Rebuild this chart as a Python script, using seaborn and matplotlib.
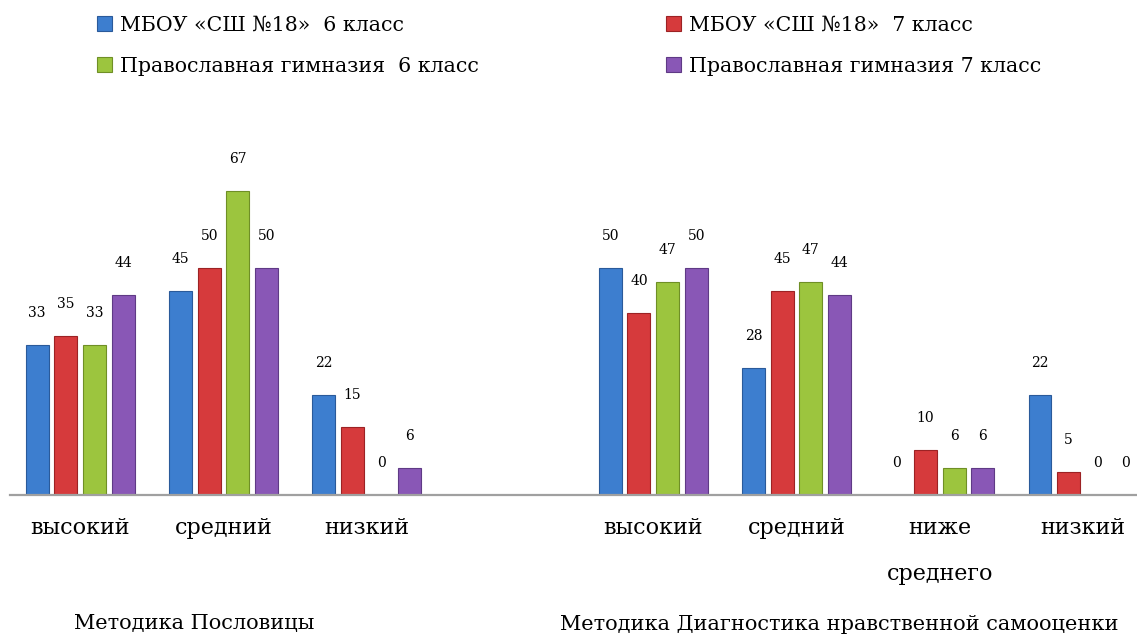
import numpy as np
import pandas as pd
import matplotlib
matplotlib.use("Agg")
import matplotlib.pyplot as plt
from matplotlib.patches import Patch
import seaborn as sns

# ---- data ----
series = ["МБОУ «СШ №18»  6 класс", "МБОУ «СШ №18»  7 класс",
          "Православная гимназия  6 класс", "Православная гимназия 7 класс"]
categories_1 = ["высокий", "средний", "низкий"]
categories_2 = ["высокий", "средний", "ниже\nсреднего", "низкий"]
group_titles = ["Методика Пословицы", "Методика Диагностика нравственной самооценки"]

mbou_6 = [33, 45, 22, 50, 28, 0, 22]
mbou_7 = [35, 50, 15, 40, 45, 10, 5]
gym_6 = [33, 67, 0, 47, 47, 6, 0]
gym_7 = [44, 50, 6, 50, 44, 6, 0]

colors = ["#3d7ecf", "#d63a3c", "#9cc53e", "#8957b6"]
edges = ["#2a5a9a", "#9c2224", "#6f8f26", "#5f3a85"]

# slot positions: group 1 at 0..2, empty slot 3, group 2 at 4..7
slots = [0, 1, 2, 4, 5, 6, 7]
labels = categories_1 + categories_2

rows = []
for name, vals in zip(series, [mbou_6, mbou_7, gym_6, gym_7]):
    for p, v in zip(slots, vals):
        rows.append({"pos": p, "value": v, "series": name})
df = pd.DataFrame(rows)

sns.set_theme(style="white")
plt.rcParams["font.family"] = ["DejaVu Serif", "DejaVu Sans"]
plt.rcParams["text.color"] = "black"
plt.rcParams["xtick.color"] = "black"

fig = plt.figure(figsize=(11.37, 6.36), dpi=100)
W, H = 1137, 636
ax = fig.add_axes([10 / W, 1 - 495 / H, 1 - 10 / W, (495 - 150) / H])

sns.barplot(data=df, x="pos", y="value", hue="series", hue_order=series,
            native_scale=True, palette=colors, saturation=1, gap=0.2,
            legend=False, ax=ax, linewidth=0.8, edgecolor="#333333")

for cont, ec in zip(ax.containers, edges):
    for b in cont:
        b.set_edgecolor(ec)
    ax.bar_label(cont, fmt="%g", padding=18, fontsize=10, color="black")

ax.set_xlim(-0.49, 7.377)
ax.set_ylim(0, 76)
ax.set_xticks(slots)
ax.set_xticklabels(labels, fontsize=16, color="black")
for t in ax.get_xticklabels():
    t.set_linespacing(2.4)
    t.set_multialignment("center")
ax.tick_params(axis="x", length=0, pad=16)
ax.set_yticks([])
ax.set_xlabel("")
ax.set_ylabel("")
for s in ["left", "right", "top"]:
    ax.spines[s].set_visible(False)
ax.spines["bottom"].set_color("#a0a0a0")
ax.spines["bottom"].set_linewidth(1.6)

# group titles
fig.text(194 / W, 1 - 624 / H, group_titles[0], ha="center", va="center",
         fontsize=15, color="black")
fig.text(839 / W, 1 - 624 / H, group_titles[1], ha="center", va="center",
         fontsize=15, color="black")

# legend (two columns)
handles = [Patch(facecolor=c, edgecolor=e, linewidth=0.8) for c, e in zip(colors, edges)]
leg_kw = dict(frameon=False, fontsize=14.8, handlelength=0.75, handleheight=0.75,
              handletextpad=0.35, labelspacing=1.05, borderpad=0, borderaxespad=0,
              labelcolor="black")
fig.legend([handles[0], handles[2]], [series[0], series[2]], loc="upper left",
           bbox_to_anchor=(97 / W, 1 - 16 / H), **leg_kw)
fig.legend([handles[1], handles[3]], [series[1], series[3]], loc="upper left",
           bbox_to_anchor=(666 / W, 1 - 16 / H), **leg_kw)

fig.savefig("out.png", dpi=100, facecolor="white")
